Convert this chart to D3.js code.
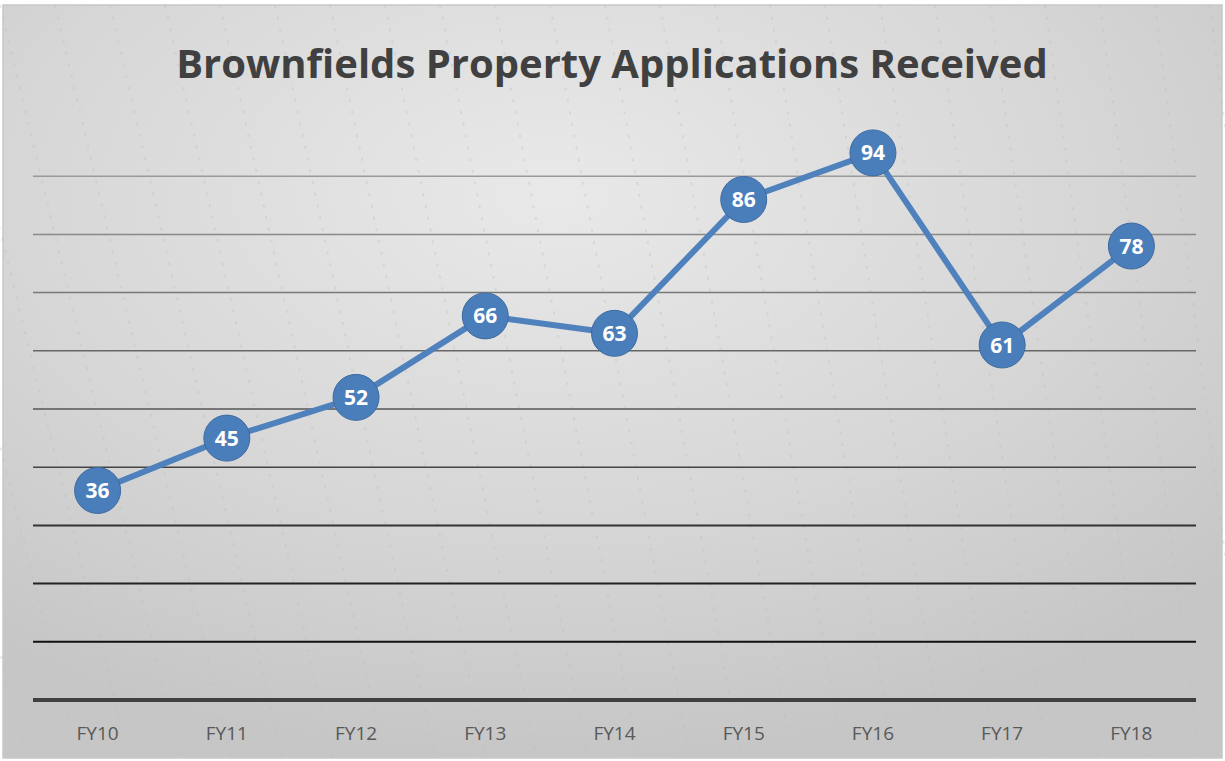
<!DOCTYPE html>
<html>
<head>
<meta charset="utf-8">
<script src="https://cdn.jsdelivr.net/npm/d3@7"></script>
<style>
  body { margin: 0; background: #fff; }
  svg { display: block; }
</style>
</head>
<body>
<div id="chart"></div>
<script>
const years = ["FY10", "FY11", "FY12", "FY13", "FY14", "FY15", "FY16", "FY17", "FY18"];
const applications = [36, 45, 52, 66, 63, 86, 94, 61, 78];
const gridValues = [10, 20, 30, 40, 50, 60, 70, 80, 90];

const width = 1225, height = 761;
const plot = { left: 33, right: 1196, top: 118, bottom: 700 };

const svg = d3.select("#chart").append("svg")
  .attr("width", width)
  .attr("height", height);

const defs = svg.append("defs");
const bg = defs.append("radialGradient")
  .attr("id", "bg")
  .attr("cx", "45%").attr("cy", "25%").attr("r", "75%");
bg.append("stop").attr("offset", "0%").attr("stop-color", "#e9e9e9");
bg.append("stop").attr("offset", "60%").attr("stop-color", "#d6d6d6");
bg.append("stop").attr("offset", "100%").attr("stop-color", "#c6c6c6");

svg.append("rect")
  .attr("x", 3).attr("y", 5)
  .attr("width", 1219).attr("height", 753)
  .attr("fill", "url(#bg)")
  .attr("stroke", "#c8c8c8")
  .attr("stroke-width", 1.5);

// faint diagonal texture streaks like the picture background
const streaks = svg.append("g").attr("stroke", "#bdbdbd").attr("stroke-opacity", 0.35)
  .attr("stroke-width", 2).attr("stroke-dasharray", "3 9");
d3.range(-6, 26).forEach(i => {
  const x0 = i * 55;
  streaks.append("line")
    .attr("x1", x0).attr("y1", 5)
    .attr("x2", x0 + 180 - i * 4).attr("y2", 758);
});

const x = d3.scalePoint()
  .domain(years)
  .range([plot.left, plot.right])
  .padding(0.5);

const y = d3.scaleLinear()
  .domain([0, 100])
  .range([plot.bottom, plot.top]);

const shade = d3.scaleLinear()
  .domain([90, 10])
  .range(["#9a9a9a", "#111111"]);

svg.append("g").selectAll("line")
  .data(gridValues)
  .join("line")
  .attr("x1", plot.left).attr("x2", plot.right)
  .attr("y1", d => y(d)).attr("y2", d => y(d))
  .attr("stroke", d => shade(d))
  .attr("stroke-width", d => d < 40 ? 2 : 1.5);

// baseline
svg.append("line")
  .attr("x1", plot.left).attr("x2", plot.right)
  .attr("y1", y(0)).attr("y2", y(0))
  .attr("stroke", "#404040")
  .attr("stroke-width", 4);

svg.append("g").selectAll("text")
  .data(years)
  .join("text")
  .attr("x", d => x(d))
  .attr("y", 740)
  .attr("text-anchor", "middle")
  .attr("font-family", "'Open Sans', sans-serif")
  .attr("font-size", 19)
  .attr("fill", "#595959")
  .text(d => d);

svg.append("text")
  .attr("x", 612)
  .attr("y", 78)
  .attr("text-anchor", "middle")
  .attr("font-family", "'Open Sans', sans-serif")
  .attr("font-weight", "bold")
  .attr("font-size", 40)
  .attr("fill", "#404040")
  .text("Brownfields Property Applications Received");

const pts = years.map((d, i) => [x(d), y(applications[i])]);

svg.append("path")
  .attr("d", d3.line()(pts))
  .attr("fill", "none")
  .attr("stroke", "#4f81bd")
  .attr("stroke-width", 6)
  .attr("stroke-linejoin", "round");

const marks = svg.append("g").selectAll("g")
  .data(applications)
  .join("g")
  .attr("transform", (d, i) => `translate(${x(years[i])},${y(d)})`);

marks.append("circle")
  .attr("r", 23)
  .attr("fill", "#4a7ebb")
  .attr("stroke", "#3d6a9e")
  .attr("stroke-width", 1);

marks.append("text")
  .attr("text-anchor", "middle")
  .attr("dy", "0.36em")
  .attr("font-family", "'Open Sans', sans-serif")
  .attr("font-weight", "bold")
  .attr("font-size", 21)
  .attr("fill", "#ffffff")
  .text(d => d);
</script>
</body>
</html>
